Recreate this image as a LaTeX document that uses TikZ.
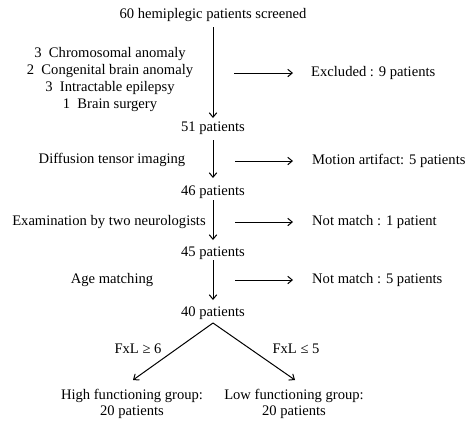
\documentclass[tikz,border=0pt]{standalone}
\usepackage{fontspec}
\setmainfont{Liberation Serif}
\usetikzlibrary{arrows.meta}
\begin{document}
\begin{tikzpicture}[x=1pt,y=-1pt,
  every node/.style={font=\fontsize{14.6}{16.8}\selectfont, inner xsep=0pt, inner ysep=0pt, text height=9pt, text depth=3pt},
  mid/.style={anchor=center},
  side/.style={anchor=west},
  lab/.style={anchor=center, align=center},
  arr/.style={line width=1pt, -{Straight Barb[length=4.5pt,width=7.5pt]}},
  ln/.style={line width=1pt}]
\useasboundingbox (0,0) rectangle (474,432);
% main column
\node[mid] (n60) at (213,15) {60 hemiplegic patients screened};
\node[mid] (n51) at (213,128) {51 patients};
\node[mid] (n46) at (213,192) {46 patients};
\node[mid] (n45) at (213,253) {45 patients};
\node[mid] (n40) at (213,313) {40 patients};
% left reasons
\node[lab, text height=, text depth=] (r1) at (110,79.5) {3\ \ Chromosomal anomaly\\2\ \ Congenital brain anomaly\\3\ \ Intractable epilepsy\\1\ \ Brain surgery};
\node[mid] (r2) at (112,160) {Diffusion tensor imaging};
\node[mid] (r3) at (109,222) {Examination by two neurologists};
\node[mid] (r4) at (112,280) {Age matching};
% right exclusions
\node[side] (x1) at (311,73) {Excluded : 9 patients};
\node[side] (x2) at (312,161) {Motion artifact: 5 patients};
\node[side] (x3) at (312,222) {Not match : 1 patient};
\node[side] (x4) at (312,280) {Not match : 5 patients};
% groups
\node[lab, text height=, text depth=] (hi) at (132,404) {High functioning group:\\20 patients};
\node[lab, text height=, text depth=] (lo) at (294,404) {Low functioning group:\\20 patients};
\node[mid] (f1) at (138,350) {FxL ≥ 6};
\node[mid] (f2) at (296,350) {FxL ≤ 5};
% vertical arrows
\coordinate (v1a) at (213,27);  \coordinate (v1b) at (213,118);
\coordinate (v2a) at (213,140); \coordinate (v2b) at (213,178);
\coordinate (v3a) at (213,200); \coordinate (v3b) at (213,240);
\coordinate (v4a) at (213,260); \coordinate (v4b) at (213,300);
\draw[arr] (v1a) -- (v1b);
\draw[arr] (v2a) -- (v2b);
\draw[arr] (v3a) -- (v3b);
\draw[arr] (v4a) -- (v4b);
% horizontal arrows
\coordinate (h1a) at (234,73);  \coordinate (h1b) at (293,73);
\coordinate (h2a) at (235,161); \coordinate (h2b) at (293,161);
\coordinate (h3a) at (235,222); \coordinate (h3b) at (293,222);
\coordinate (h4a) at (235,280); \coordinate (h4b) at (293,280);
\draw[arr] (h1a) -- (h1b);
\draw[arr] (h2a) -- (h2b);
\draw[arr] (h3a) -- (h3b);
\draw[arr] (h4a) -- (h4b);
% split
\coordinate (s0) at (213,323);
\coordinate (sl) at (133,380);
\coordinate (sr) at (295,380);
\draw[arr] (s0) -- (sl);
\draw[arr] (s0) -- (sr);
\end{tikzpicture}
\end{document}
